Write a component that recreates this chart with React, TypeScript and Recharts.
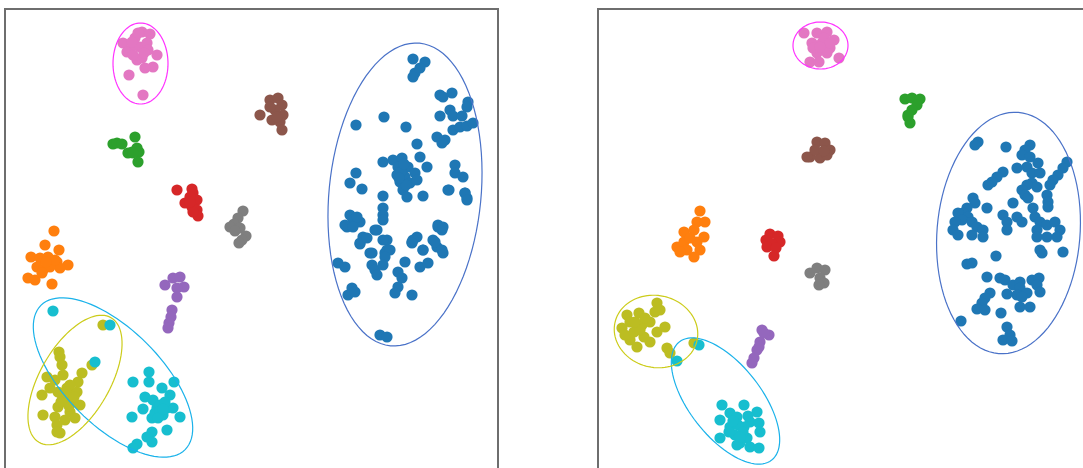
import { ScatterChart, Scatter, XAxis, YAxis } from 'recharts';

// ==========================================
// DATA (page pixel units)
// ==========================================

type Pt = [number, number];

const leftBlue: Pt[] = [
  [413, 59], [425, 62], [420, 68], [415, 73], [413, 77],
  [440, 95], [452, 93], [443, 97], [468, 102], [467, 107],
  [440, 116], [450, 110], [453, 116], [462, 116],
  [453, 130], [460, 127], [467, 126], [473, 123],
  [437, 137], [445, 140], [442, 143],
  [356, 125], [384, 117], [406, 127], [417, 144],
  [383, 162], [393, 160], [402, 158], [420, 157], [427, 167],
  [398, 167], [403, 170], [397, 175], [405, 177], [400, 182], [408, 167],
  [410, 183], [415, 173], [417, 180], [403, 190], [407, 197],
  [401, 172], [406, 185], [399, 178], [404, 164],
  [356, 173], [350, 183], [362, 189],
  [455, 165], [455, 173], [463, 177], [449, 190], [465, 193], [467, 198],
  [383, 196], [423, 196], [383, 208], [383, 215], [383, 220],
  [350, 215], [353, 220], [347, 227], [360, 222], [357, 217],
  [375, 230], [438, 227], [442, 230],
  [345, 225], [353, 227], [363, 237], [360, 244], [370, 253], [377, 230],
  [387, 240], [385, 253], [412, 242], [417, 237], [423, 250], [438, 225],
  [443, 227], [433, 240], [437, 247], [443, 253], [448, 190], [465, 193], [467, 200],
  [360, 243], [367, 238], [372, 253], [383, 240], [387, 250], [390, 250],
  [385, 257], [372, 265], [375, 270], [377, 275], [383, 265], [338, 263],
  [345, 267], [352, 288], [348, 295], [355, 292], [398, 272], [402, 278],
  [398, 287], [395, 293], [405, 262], [412, 295], [413, 240], [412, 243],
  [423, 250], [435, 242], [442, 250], [420, 267], [428, 263], [380, 335], [387, 337]
];
const leftOrange: Pt[] = [
  [54, 231], [45, 245], [59, 250], [31, 257], [40, 258], [48, 257], [57, 262],
  [68, 265], [37, 267], [43, 270], [60, 268], [50, 267], [28, 278], [35, 280],
  [52, 284], [42, 273], [55, 260], [46, 262]
];
const leftGreen: Pt[] = [
  [113, 144], [117, 143], [122, 144], [135, 137], [137, 148], [132, 152],
  [128, 153], [139, 152], [138, 162], [133, 153]
];
const leftRed: Pt[] = [
  [177, 190], [192, 189], [193, 193], [197, 200], [190, 197], [185, 203],
  [192, 207], [197, 210], [198, 216], [193, 212], [190, 202]
];
const leftPurple: Pt[] = [
  [165, 285], [173, 278], [180, 277], [184, 287], [177, 288], [177, 297],
  [172, 310], [171, 317], [169, 323], [168, 328]
];
const leftBrown: Pt[] = [
  [260, 115], [270, 100], [278, 98], [282, 105], [283, 115], [275, 110],
  [272, 120], [280, 122], [282, 130], [270, 107], [277, 117]
];
const leftPink: Pt[] = [
  [123, 43], [142, 32], [150, 34], [135, 38], [130, 50], [127, 52], [140, 47],
  [147, 43], [157, 55], [153, 67], [145, 68], [137, 60], [142, 58], [133, 55],
  [129, 75], [143, 95], [138, 33], [148, 50], [144, 53], [135, 45], [132, 42]
];
const leftGray: Pt[] = [
  [243, 211], [238, 218], [234, 224], [230, 227], [240, 228], [235, 231],
  [246, 236], [242, 240], [239, 243]
];
const leftOlive: Pt[] = [
  [103, 325], [59, 352], [60, 357], [62, 365], [82, 373], [92, 365], [47, 377],
  [55, 380], [63, 375], [78, 382], [42, 395], [50, 388], [58, 392], [67, 388],
  [72, 393], [77, 392], [65, 400], [80, 405], [58, 407], [70, 412], [43, 415],
  [55, 417], [75, 418], [65, 420], [57, 425], [60, 433], [57, 432], [68, 398],
  [62, 395], [73, 402], [70, 385], [66, 392], [74, 397], [61, 402], [69, 406]
];
const leftCyan: Pt[] = [
  [53, 311], [110, 325], [95, 362], [149, 372], [133, 382], [149, 382],
  [174, 382], [145, 397], [162, 388], [170, 395], [153, 400], [143, 409],
  [157, 408], [167, 408], [163, 415], [160, 405], [173, 408], [180, 417],
  [132, 417], [152, 418], [167, 430], [152, 432], [147, 437], [152, 442],
  [137, 444], [133, 448], [155, 413], [160, 411], [165, 402], [158, 418], [163, 409]
];

const rightBlue: Pt[] = [
  [978, 142], [975, 145], [1006, 147], [1030, 145], [1025, 150], [1022, 155],
  [1030, 157], [1038, 163], [1017, 168], [1027, 167], [1032, 173], [1040, 173],
  [1067, 162], [1063, 168], [1058, 175], [1053, 180], [1050, 185],
  [1003, 172], [997, 177], [992, 182], [988, 185],
  [1032, 183], [1037, 187], [1027, 185], [1022, 190], [1025, 195], [1028, 198],
  [1047, 195], [1048, 202], [1048, 207],
  [973, 198], [975, 203], [967, 208], [963, 213], [958, 213], [968, 217],
  [962, 220], [955, 222], [972, 222], [977, 227], [987, 208], [1013, 203],
  [1003, 215], [1007, 222], [1017, 217], [1022, 222], [1033, 208], [1035, 217],
  [1040, 222], [1047, 225], [1055, 222], [1060, 230], [1037, 230], [1007, 230],
  [953, 230], [983, 230],
  [958, 235], [972, 235], [983, 237], [1037, 237], [1047, 237], [1057, 237],
  [1040, 250], [1042, 253], [1063, 252], [996, 256], [967, 264], [972, 263],
  [987, 277], [1000, 278], [1005, 280], [1013, 285], [1020, 282], [1032, 280],
  [1039, 278], [1037, 285], [1040, 292], [1020, 288], [1027, 293], [1017, 295],
  [1022, 297], [1007, 294], [990, 293], [985, 298], [982, 303], [977, 309],
  [985, 310], [1020, 307], [1030, 307], [1001, 313], [1007, 327], [1010, 335],
  [1003, 340], [1012, 341], [961, 321]
];
const rightOrange: Pt[] = [
  [700, 211], [697, 222], [705, 222], [684, 232], [694, 230], [677, 247],
  [684, 242], [697, 242], [700, 250], [694, 257], [687, 250], [704, 237], [680, 252],
  [690, 238]
];
const rightGreen: Pt[] = [
  [905, 99], [912, 98], [920, 99], [917, 105], [912, 110], [908, 117], [910, 123], [908, 115]
];
const rightRed: Pt[] = [
  [770, 234], [778, 236], [766, 240], [780, 242], [772, 244], [767, 247], [776, 248], [774, 256]
];
const rightPurple: Pt[] = [
  [762, 330], [769, 335], [760, 342], [757, 350], [754, 358], [752, 363], [764, 333], [759, 347]
];
const rightBrown: Pt[] = [
  [817, 142], [825, 143], [830, 150], [810, 157], [820, 158], [827, 155],
  [815, 150], [824, 151], [807, 157]
];
const rightPink: Pt[] = [
  [804, 33], [817, 33], [827, 32], [834, 40], [812, 43], [822, 43], [830, 48],
  [817, 53], [827, 53], [810, 62], [819, 62], [839, 58], [813, 48], [824, 38], [830, 43],
  [820, 47]
];
const rightGray: Pt[] = [
  [810, 273], [817, 268], [825, 270], [820, 278], [824, 283], [819, 285]
];
const rightOlive: Pt[] = [
  [657, 303], [660, 310], [655, 312], [627, 315], [639, 313], [630, 322],
  [622, 328], [642, 325], [650, 322], [665, 327], [657, 332], [634, 332],
  [644, 337], [650, 342], [630, 340], [637, 347], [667, 348], [670, 353],
  [625, 335], [640, 330], [694, 343], [635, 322], [645, 318]
];
const rightCyan: Pt[] = [
  [699, 345], [677, 361], [722, 405], [744, 405], [730, 413], [757, 412],
  [720, 420], [737, 417], [750, 422], [759, 423], [730, 427], [744, 427],
  [760, 432], [735, 435], [720, 438], [747, 438], [740, 443], [750, 447],
  [759, 448], [737, 445], [729, 432], [738, 425], [743, 432], [733, 421],
  [748, 416], [740, 437]
];

// ellipse outlines: [cx, cy, rx, ry, rotation deg, colour]
type Ell = [number, number, number, number, number, string];

const leftEllipses: Ell[] = [
  [140.5, 63.5, 27.5, 40.5, 0, '#ff33ff'],
  [405, 194.5, 76, 152, 5.5, '#4a72c8'],
  [113, 377.5, 102, 48, 45, '#1ab2ea'],
  [75, 380, 35, 72, 30, '#cccc1a']
];
const rightEllipses: Ell[] = [
  [820.5, 45.5, 27.5, 23.5, 0, '#ff33ff'],
  [1008.5, 233, 71.5, 121, 4.7, '#4a72c8'],
  [725.5, 401, 75, 36, 52, '#1ab2ea'],
  [656, 331.5, 42, 36, 12, '#cccc1a']
];

const COLORS = [
  '#1f77b4', '#ff7f0e', '#2ca02c', '#d62728', '#9467bd',
  '#8c564b', '#e377c2', '#7f7f7f', '#bcbd22', '#17becf'
];

const leftClusters = [
  leftBlue, leftOrange, leftGreen, leftRed, leftPurple,
  leftBrown, leftPink, leftGray, leftOlive, leftCyan
];
const rightClusters = [
  rightBlue, rightOrange, rightGreen, rightRed, rightPurple,
  rightBrown, rightPink, rightGray, rightOlive, rightCyan
];

// ==========================================
// HELPERS
// ==========================================

const toPts = (arr: Pt[]) =>
  arr.map(([x, y]) => ({ x, y }));

function ellipseOutline([cx, cy, rx, ry, deg]: Ell) {
  const th = (deg * Math.PI) / 180;
  const out = [];
  for (let i = 0; i <= 96; i++) {
    const t = (i / 96) * Math.PI * 2;
    const a = rx * Math.cos(t);
    const b = ry * Math.sin(t);
    out.push({
      x: cx + a * Math.cos(th) + b * Math.sin(th),
      y: cy + a * Math.sin(th) - b * Math.cos(th)
    });
  }
  return out;
}

const Dot = (props: any) => (
  <circle cx={props.cx} cy={props.cy} r={5.6} fill={props.fill} />
);

const NoDot = () => <g />;

// ==========================================
// PANEL
// ==========================================

type PanelProps = {
  left: number;
  width: number;
  clusters: Pt[][];
  ellipses: Ell[];
};

const TOP = 9;
const HEIGHT = 459;

function Panel({ left, width, clusters, ellipses }: PanelProps) {
  return (
    <div
      style={{
        position: 'absolute',
        left,
        top: TOP,
        width,
        height: HEIGHT
      }}
    >
      <div
        style={{
          position: 'absolute',
          left: -1,
          top: -1,
          width: width + 1,
          height: HEIGHT + 20,
          border: '2px solid #6e6e6e',
          boxSizing: 'border-box'
        }}
      />

      <ScatterChart
        width={width}
        height={HEIGHT}
        margin={{ top: 0, right: 0, bottom: 0, left: 0 }}
      >
        <XAxis
          type="number"
          dataKey="x"
          domain={[left, left + width]}
          allowDataOverflow
          hide
        />
        <YAxis
          type="number"
          dataKey="y"
          domain={[TOP, TOP + HEIGHT]}
          reversed
          allowDataOverflow
          hide
        />

        {clusters.map((c, i) => (
          <Scatter
            key={'c' + i}
            data={toPts(c)}
            fill={COLORS[i]}
            shape={Dot}
            isAnimationActive={false}
          />
        ))}

        {ellipses.map((e, i) => (
          <Scatter
            key={'e' + i}
            data={ellipseOutline(e)}
            fill="none"
            line={{ stroke: e[5], strokeWidth: 1.2 }}
            lineType="joint"
            shape={NoDot}
            isAnimationActive={false}
          />
        ))}
      </ScatterChart>
    </div>
  );
}

export default function App() {
  return (
    <div
      style={{
        position: 'absolute',
        left: 0,
        top: 0,
        width: 1083,
        height: 468,
        overflow: 'hidden',
        background: '#fff'
      }}
    >
      <Panel
        left={5}
        width={494}
        clusters={leftClusters}
        ellipses={leftEllipses}
      />
      <Panel
        left={598}
        width={500}
        clusters={rightClusters}
        ellipses={rightEllipses}
      />
    </div>
  );
}
